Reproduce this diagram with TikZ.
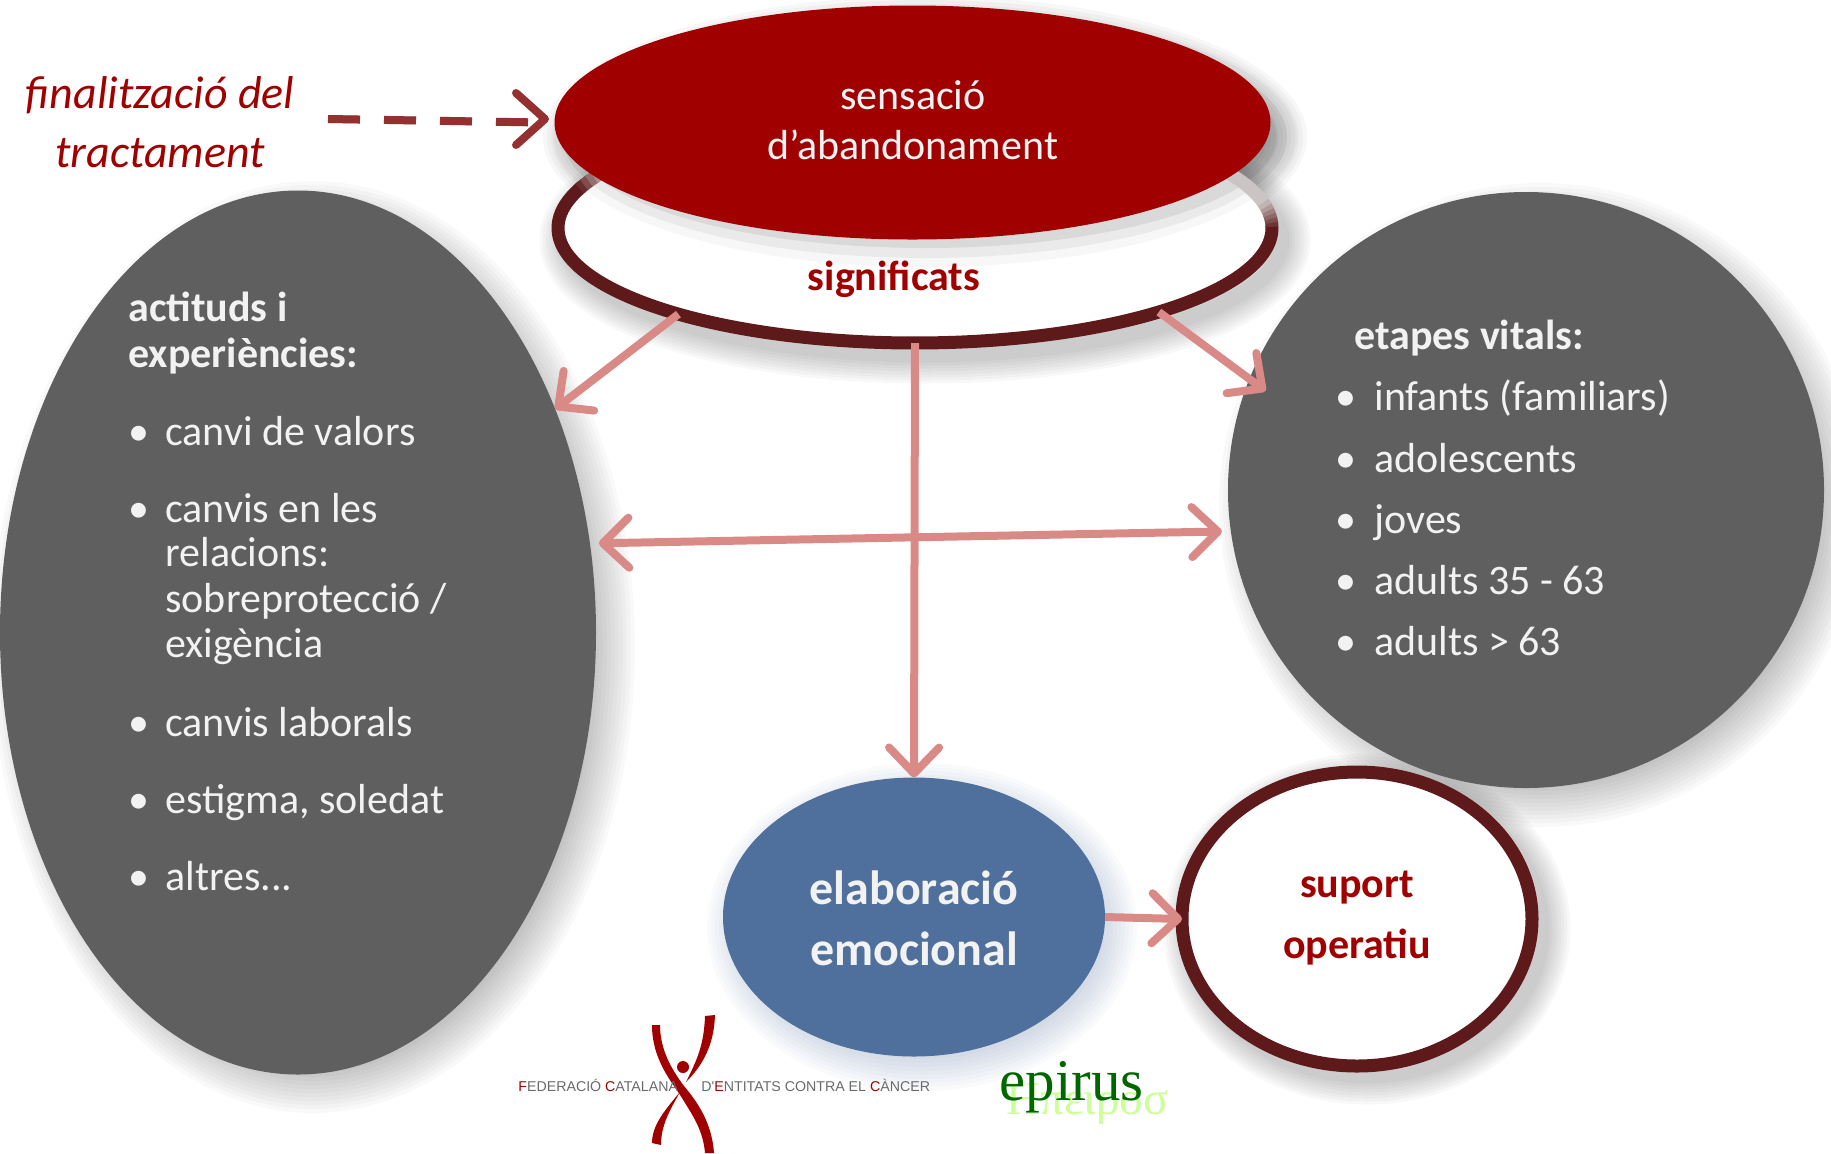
\documentclass[tikz,border=0pt]{standalone}
\usepackage{fontspec}
\setmainfont{Carlito}
\newfontfamily\logofont{Liberation Sans}
\newfontfamily\timesfont{Liberation Serif}
\usetikzlibrary{shapes.geometric,arrows.meta}
\definecolor{crimson}{HTML}{A00000}
\definecolor{ringdark}{HTML}{5E1A1A}
\definecolor{ringfade}{HTML}{CBC4C4}
\definecolor{slate}{HTML}{5F5F5F}
\definecolor{bluefill}{HTML}{4F6F9C}
\definecolor{pinkarrow}{HTML}{DA8A86}
\definecolor{dasharrow}{HTML}{943030}
\definecolor{paletext}{HTML}{F2F2F2}
\definecolor{logogray}{HTML}{6A6A6A}
\newcommand{\softfill}[6]{% cx cy rx ry colour opacity
  \foreach \d in {-24,-20,...,24}{\fill[#5,opacity=#6] (#1,#2) ellipse [x radius=#3+\d, y radius=#4+\d];}}
\newcommand{\softring}[6]{%
  \foreach \d in {44,38,...,2}{\draw[#5,opacity=#6,line width=(13+\d)*0.5pt] (#1,#2) ellipse [x radius=#3, y radius=#4];}}
\newcommand{\bodyline}[3]{\node[bodytext] (#3) at (#1,#2) {};}
\tikzset{
  x=0.5pt,y=-0.5pt,
  blob/.style={ellipse,inner sep=0pt,outer sep=0pt},
  bodytext/.style={anchor=base west,inner sep=0pt,text=paletext,font=\fontsize{21}{25}\selectfont},
  headtext/.style={bodytext,font=\fontsize{21}{25}\selectfont\bfseries},
  flow/.style={draw=pinkarrow,line width=4pt,
    -{Straight Barb[round,length=13pt,width=25pt,line width=4pt]}},
  flowboth/.style={draw=pinkarrow,line width=4pt,
    {Straight Barb[round,length=13pt,width=25pt,line width=4pt]}-{Straight Barb[round,length=13pt,width=25pt,line width=4pt]}},
  redtext/.style={inner sep=0pt,text=crimson,font=\fontsize{21}{25}\selectfont\bfseries},
  logotext/.style={inner sep=0pt,text=logogray,anchor=west,font=\logofont\fontsize{7.1}{8}\selectfont},
}
\begin{document}
\begin{tikzpicture}
\useasboundingbox (0,0) rectangle (1831,1153);
% soft shadows
\softfill{313}{647}{298}{442}{black}{0.022}
\softfill{1541}{505}{298}{298}{black}{0.022}
\softfill{922}{927}{191}{140}{bluefill}{0.03}
\softring{925}{240}{357}{115}{black}{0.028}
\softring{1367}{929}{175}{147}{black}{0.028}
\softfill{925}{137}{358}{117}{black}{0.03}
% ring with white centre
\fill[white] (915,228) ellipse [x radius=351, y radius=109];
\fill[black,opacity=0.03] (925,137) ellipse [x radius=372, y radius=130];
\fill[black,opacity=0.05] (925,137) ellipse [x radius=362, y radius=121];
\fill[black,opacity=0.07] (925,137) ellipse [x radius=352, y radius=111];
\node[blob,minimum width=357pt,minimum height=115pt] (ring) at (915,228) {};
\draw[ringdark,line width=6.5pt] plot[domain=-1:201,samples=120] ({915+357*cos(\x)},{228+115*sin(\x)});
\foreach \t/\m in {-3/85,-5/70,-7/55,-9/40,-11/25,-13/10}{
  \draw[ringdark!\m!ringfade,line width=6.5pt] plot[domain=\t:\t+2.4,samples=4] ({915+357*cos(\x)},{228+115*sin(\x)});}
\draw[ringfade,line width=6.5pt] plot[domain=-30:-12.8,samples=16] ({915+357*cos(\x)},{228+115*sin(\x)});
\foreach \t/\m in {200/90,202/70,204/50,206/30}{
  \draw[ringdark!\m!ringfade,line width=6.5pt] plot[domain=\t:\t+2.4,samples=4] ({915+357*cos(\x)},{228+115*sin(\x)});}
% main shapes
\node[blob,fill=crimson,minimum width=358pt,minimum height=117pt] (red) at (912.5,122.5) {};
\node[blob,fill=slate,minimum width=298pt,minimum height=442pt] (leftg) at (298,632.5) {};
\node[blob,fill=slate,minimum width=298pt,minimum height=298pt] (rightg) at (1526,490) {};
\node[blob,fill=bluefill,minimum width=191pt,minimum height=139.5pt] (blue) at (914,917) {};
\node[blob,draw=ringdark,fill=white,line width=6.5pt,minimum width=175pt,minimum height=147pt] (suport) at (1357,919) {};
% arrows
\draw[flow] (ring.200) -- (leftg.41);
\draw[flow] (ring.-19.4) -- ([xshift=11.5pt,yshift=3.5pt]rightg.162.6);
\draw[flow] (ring.south) -- (blue.north);
\draw[flowboth] ([xshift=4.5pt,yshift=0pt]leftg.17.6) -- ([xshift=-4.5pt]rightg.188.7);
\draw[flow] (blue.east) -- (suport.west);
% dashed arrow
\node[inner sep=0pt,text=crimson,font=\fontsize{23}{27}\selectfont\itshape] (fin1) at (160,95) {finalització del};
\node[inner sep=0pt,text=crimson,font=\fontsize{23}{27}\selectfont\itshape] (fin2) at (160,153) {tractament};
\coordinate (dashstart) at (328,119);
\draw[black,opacity=0.25,line width=4pt,dash pattern=on 16pt off 12pt,yshift=-1.5pt,xshift=0.5pt] (dashstart) -- ([xshift=-8pt]red.west);
\draw[dasharrow,line width=4pt,dash pattern=on 16pt off 12pt] (dashstart) -- ([xshift=-6pt]red.west);
\draw[dasharrow,line width=4pt,line cap=round,line join=round] (516,93) -- (545,119) -- (516,145);
% texts
\node[inner sep=0pt,text=paletext,font=\fontsize{21}{25}\selectfont] (s1) at (913,95) {sensació};
\node[inner sep=0pt,text=paletext,font=\fontsize{21}{25}\selectfont] (s2) at (913,145) {d'abandonament};
\node[redtext] (sig) at (894,279) {significats};
\node[headtext] (h1) at (128,321) {actituds i};
\node[headtext] (h2) at (128,367) {experiències:};
\node[bodytext] (l1) at (128,445) {\makebox[18.5pt][l]{\hspace{0pt}•}canvi de valors};
\node[bodytext] (l2) at (128,522) {\makebox[18.5pt][l]{\hspace{0pt}•}canvis en les};
\node[bodytext] (l3) at (165,566) {relacions:};
\node[bodytext] (l4) at (165,612) {sobreprotecció /};
\node[bodytext] (l5) at (165,657) {exigència};
\node[bodytext] (l6) at (128,736) {\makebox[18.5pt][l]{\hspace{0pt}•}canvis laborals};
\node[bodytext] (l7) at (128,813) {\makebox[18.5pt][l]{\hspace{0pt}•}estigma, soledat};
\node[bodytext] (l8) at (128,890) {\makebox[18.5pt][l]{\hspace{0pt}•}altres...};
\node[headtext] (e0) at (1354,349) {etapes vitals:};
\node[bodytext] (e1) at (1335,410) {\makebox[19.5pt][l]{•}infants (familiars)};
\node[bodytext] (e2) at (1335,472) {\makebox[19.5pt][l]{•}adolescents};
\node[bodytext] (e3) at (1335,533) {\makebox[19.5pt][l]{•}joves};
\node[bodytext] (e4) at (1335,594) {\makebox[19.5pt][l]{•}adults 35 - 63};
\node[bodytext] (e5) at (1335,655) {\makebox[19.5pt][l]{•}adults > 63};
\node[inner sep=0pt,text=paletext,font=\fontsize{24}{28}\selectfont\bfseries] (b1) at (914,888) {elaboració};
\node[inner sep=0pt,text=paletext,font=\fontsize{24}{28}\selectfont\bfseries] (b2) at (914,949) {emocional};
\node[redtext] (o1) at (1357,888) {suport};
\node[redtext] (o2) at (1357,947) {operatiu};
% logo
\fill[crimson] (652,1025) .. controls (652,1060) and (672,1082) .. (682,1098) .. controls (693,1116) and (703,1130) .. (705,1153) -- (714,1153) .. controls (712,1125) and (700,1105) .. (684,1086) .. controls (672,1070) and (660,1050) .. (660,1025) -- cycle;
\fill[crimson] (705,1016) -- (715,1015) .. controls (714,1045) and (703,1065) .. (686,1082) .. controls (697,1060) and (704,1045) .. (705,1016) -- cycle;
\fill[crimson] (680,1092) .. controls (665,1110) and (652,1125) .. (652,1143) -- (661,1145) .. controls (661,1125) and (670,1110) .. (680,1092) -- cycle;
\fill[crimson] (683,1067) circle [radius=6];
\node[logotext] (fed) at (518,1085) {{\color{crimson}F}EDERACIÓ {\color{crimson}C}ATALANA};
\node[logotext] (ent) at (701,1085) {D'{\color{crimson}E}NTITATS CONTRA EL {\color{crimson}C}ÀNCER};
\node[anchor=base west,inner sep=0pt,text={rgb,255:red,204;green,255;blue,153},font=\timesfont\fontsize{23.5}{28}\selectfont] (gr) at (1006,1114) {Ηπειροσ};
\node[anchor=base west,inner sep=0pt,text={rgb,255:red,0;green,102;blue,0},font=\timesfont\fontsize{29.5}{34}\selectfont] (ep) at (999,1100) {epirus};
\end{tikzpicture}
\end{document}
